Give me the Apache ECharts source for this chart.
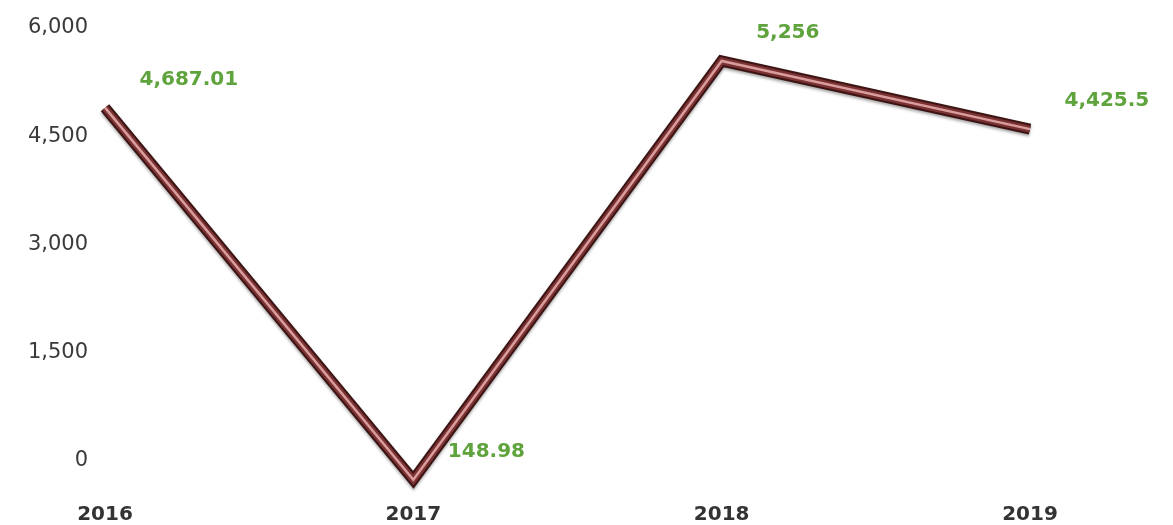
<!DOCTYPE html>
<html>
<head>
<meta charset="utf-8">
<script src="https://cdn.jsdelivr.net/npm/echarts@6/dist/echarts.min.js"></script>
<style>
html,body{margin:0;padding:0;background:#fff;}
#chart{width:1173px;height:525px;}
</style>
</head>
<body>
<div id="chart"></div>
<script>
const categories = ['2016', '2017', '2018', '2019'];
const values = [4687.01, 148.98, 5256, 4425.5];
const yTicks = [0, 1500, 3000, 4500, 6000];

const fmt = v => v.toLocaleString('en-US', {maximumFractionDigits: 2});
const chart = echarts.init(document.getElementById('chart'));
const font = 'DejaVu Sans';

chart.setOption({
  animation: false,
  backgroundColor: '#ffffff',
  grid: [
    {left: 105, right: 143, top: 28, bottom: 59},
    {left: 105, right: 143, top: -1, bottom: 33}
  ],
  xAxis: [
    {type: 'category', gridIndex: 0, data: categories, boundaryGap: false,
     axisLine: {show: false}, axisTick: {show: false}, splitLine: {show: false},
     axisLabel: {margin: 44, color: '#333', fontSize: 20, fontFamily: font, fontWeight: 'bold'}},
    {type: 'category', gridIndex: 1, data: categories, boundaryGap: false, show: false}
  ],
  yAxis: [
    {type: 'value', gridIndex: 0, min: yTicks[0], max: yTicks[yTicks.length - 1], interval: 1500,
     axisLine: {show: false}, axisTick: {show: false}, splitLine: {show: false},
     axisLabel: {margin: 17, color: '#3a3a3a', fontSize: 21, fontFamily: font,
       formatter: v => fmt(v)}},
    {type: 'value', gridIndex: 1, min: 0, max: 6000, show: false}
  ],
  series: [
    {
      type: 'line', xAxisIndex: 1, yAxisIndex: 1, data: values,
      symbol: 'circle', symbolSize: 1, itemStyle: {color: 'rgba(0,0,0,0)'},
      lineStyle: {width: 11, color: '#3d1414', join: 'miter',
        shadowColor: 'rgba(0,0,0,0.35)', shadowBlur: 3, shadowOffsetY: 2},
      label: {show: true, position: 'right', distance: 34, offset: [0, -28],
        color: '#5fa33c', fontSize: 20, fontFamily: font, fontWeight: 'bold',
        formatter: p => fmt(p.value)},
      z: 2
    },
    {
      type: 'line', xAxisIndex: 1, yAxisIndex: 1, data: values,
      symbol: 'none', silent: true,
      lineStyle: {width: 7, color: '#7a3232', join: 'miter'},
      z: 3
    },
    {
      type: 'line', xAxisIndex: 1, yAxisIndex: 1, data: values,
      symbol: 'none', silent: true,
      lineStyle: {width: 2.5, color: '#e3a9a9', join: 'miter', opacity: 0.9},
      z: 4
    }
  ]
});
</script>
</body>
</html>
